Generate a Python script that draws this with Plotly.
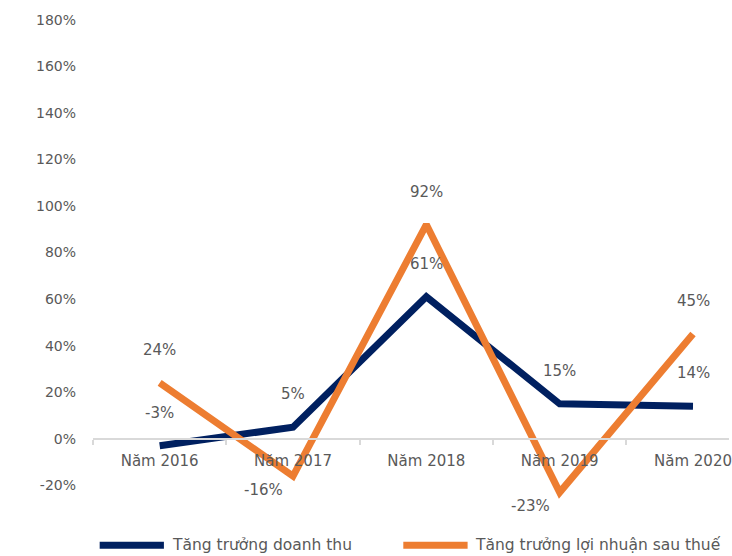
import plotly.graph_objects as go

# Categories and growth rates (percent)
years = ["Năm 2016", "Năm 2017", "Năm 2018", "Năm 2019", "Năm 2020"]
revenue_growth = [-3, 5, 61, 15, 14]
profit_growth = [24, -16, 92, -23, 45]

series_names = ["Tăng trưởng doanh thu", "Tăng trưởng lợi nhuận sau thuế"]
series_colors = ["#002060", "#ED7D31"]

y_ticks = list(range(-20, 181, 20))

FONT = "DejaVu Sans"
GRAY = "#595959"

fig = go.Figure()

for name, vals, color in zip(series_names, [revenue_growth, profit_growth], series_colors):
    fig.add_trace(go.Scatter(
        x=years, y=vals, name=name, mode="lines",
        line=dict(color=color, width=7),
        showlegend=False, hoverinfo="skip",
    ))
    # data labels: above the point, or down-left of it when the point
    # sits under the category axis labels
    for xv, yv in zip(years, vals):
        low = yv < -10
        fig.add_annotation(
            x=xv, y=yv, xref="x", yref="y", text=f"{yv}%",
            showarrow=False,
            xanchor="right" if low else "center",
            xshift=-8 if low else 0,
            yshift=-14 if low else 33,
            font=dict(family=FONT, size=15, color=GRAY),
        )

# legend drawn at the bottom
legend_items = [(0.0105, 0.1115, 0.121), (0.4879, 0.5890, 0.598)]
for (x0, x1, xt), name, color in zip(legend_items, series_names, series_colors):
    fig.add_shape(type="line", xref="paper", yref="paper",
                  x0=x0, x1=x1, y0=-0.083, y1=-0.083,
                  line=dict(color=color, width=7))
    fig.add_annotation(x=xt, y=-0.083, xref="paper", yref="paper",
                       text=name, showarrow=False,
                       xanchor="left", yanchor="middle",
                       font=dict(family=FONT, size=15.5, color=GRAY))

fig.update_layout(
    width=732, height=556,
    margin=dict(l=93, r=0, t=8, b=52),
    plot_bgcolor="white", paper_bgcolor="white",
    font=dict(family=FONT, size=14, color=GRAY),
    xaxis=dict(
        type="category", range=[-0.5, 4.27],
        anchor="free", position=65 / 496,
        showline=True, linecolor="#D9D9D9", linewidth=2,
        ticks="outside", tickson="boundaries", ticklen=5,
        tickcolor="#D9D9D9", tickwidth=2,
        showgrid=False, ticklabelstandoff=8,
        tickfont=dict(family=FONT, size=15, color=GRAY),
    ),
    yaxis=dict(
        range=[-28, 185], tickvals=y_ticks,
        ticktext=[f"{v}%" for v in y_ticks],
        showgrid=False, zeroline=False, showline=False,
        ticklabelstandoff=16,
        tickfont=dict(family=FONT, size=14, color=GRAY),
    ),
)

fig.write_html("out.html")
